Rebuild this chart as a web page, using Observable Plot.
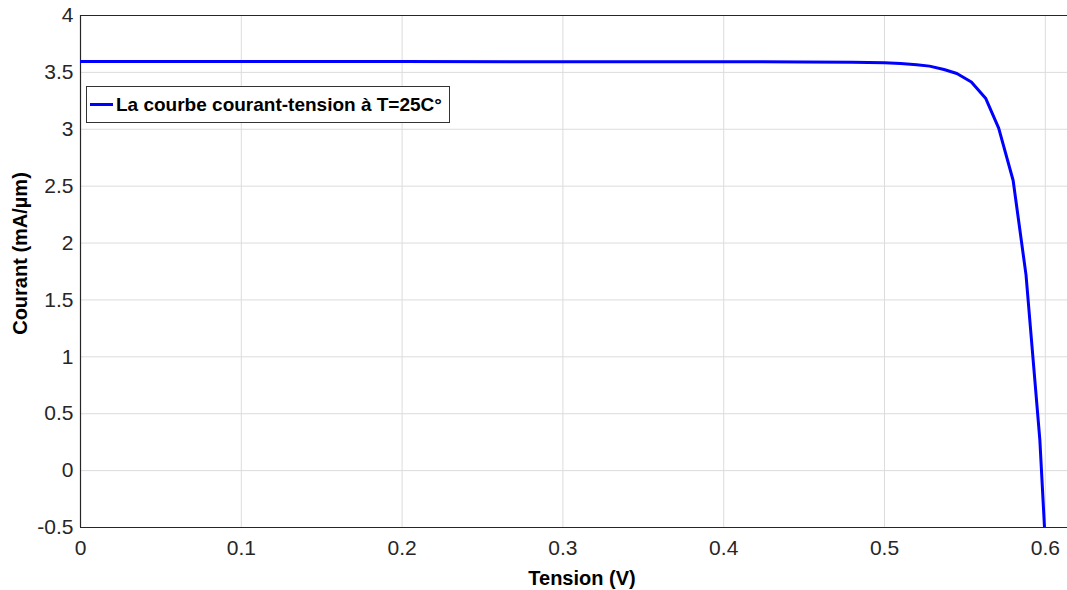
<!DOCTYPE html>
<html>
<head>
<meta charset="utf-8">
<script src="https://cdn.jsdelivr.net/npm/d3@7"></script>
<script src="https://cdn.jsdelivr.net/npm/@observablehq/plot@0.6"></script>
<style>
  html, body { margin: 0; padding: 0; background: #fff; }
  #wrap { position: relative; width: 1067px; height: 590px; font-family: "Liberation Sans", Arial, sans-serif; }
  #legend { position: absolute; left: 86px; top: 86px; width: 364px; height: 37px; border: 1px solid #333; background: #fff; box-sizing: border-box; display: flex; align-items: center; }
  #legend .sw { width: 23px; height: 3px; background: #0000ff; margin-left: 3px; margin-right: 3px; }
  #legend .tx { font-weight: bold; font-size: 19px; color: #000; white-space: nowrap; }
  g[aria-label="x-axis tick label"], g[aria-label="y-axis tick label"] { font-size: 21px; }
</style>
</head>
<body>
<div id="wrap"></div>
<script>
const tension = [0, 0.1, 0.2, 0.3, 0.4, 0.45, 0.48, 0.5, 0.51, 0.52, 0.528, 0.537, 0.545, 0.554, 0.563, 0.571, 0.580, 0.588, 0.5966, 0.5995];
const courant = [3.595, 3.595, 3.595, 3.594, 3.593, 3.592, 3.59, 3.585, 3.578, 3.568, 3.555, 3.525, 3.49, 3.415, 3.27, 3.01, 2.55, 1.72, 0.27, -0.5];
const xTicks = [0, 0.1, 0.2, 0.3, 0.4, 0.5, 0.6];
const yTicks = [-0.5, 0, 0.5, 1, 1.5, 2, 2.5, 3, 3.5, 4];
const legendLabel = "La courbe courant-tension à T=25C°";
const xLabel = "Tension (V)";
const yLabel = "Courant (mA/µm)";

const data = tension.map((v, i) => ({v, i: courant[i]}));

const chart = Plot.plot({
  width: 1067,
  height: 590,
  marginLeft: 80,
  marginRight: 0,
  marginTop: 15,
  marginBottom: 63,
  style: {fontFamily: "'Liberation Sans', Arial, sans-serif", fontSize: "21px", color: "#262626", background: "#fff"},
  x: {domain: [0, 0.6138]},
  y: {domain: [-0.5, 4]},
  marks: [
    Plot.gridX(xTicks, {stroke: "#dcdcdc", strokeOpacity: 1, strokeWidth: 1}),
    Plot.gridY(yTicks, {stroke: "#dcdcdc", strokeOpacity: 1, strokeWidth: 1}),
    Plot.axisX(xTicks, {tickSize: 0, tickPadding: 13, tickFormat: d => d === 0 ? "0" : d3.format(".1f")(d), fontSize: 21, fill: "#262626", label: null}),
    Plot.axisY(yTicks, {tickSize: 0, tickPadding: 7, tickFormat: d => String(d), fontSize: 21, fill: "#262626", label: null}),
    Plot.ruleY([-0.5], {stroke: "#262626", strokeWidth: 1.2}),
    Plot.ruleY([4], {stroke: "#262626", strokeWidth: 1.2}),
    Plot.ruleX([0], {stroke: "#262626", strokeWidth: 1.2}),
    Plot.line(data, {x: "v", y: "i", stroke: "#0000ff", strokeWidth: 3, clip: true}),
    Plot.text([xLabel], {frameAnchor: "bottom", dy: 51, dx: 8, text: d => d, fontWeight: "bold", fontSize: 20, fill: "#000", textAnchor: "middle", lineAnchor: "middle"}),
    Plot.text([yLabel], {frameAnchor: "left", dx: -60, dy: -18, rotate: -90, text: d => d, fontWeight: "bold", fontSize: 20, fill: "#000", textAnchor: "middle", lineAnchor: "middle"})
  ]
});

const wrap = document.getElementById("wrap");
wrap.appendChild(chart);
const leg = document.createElement("div");
leg.id = "legend";
leg.innerHTML = `<div class="sw"></div><div class="tx"></div>`;
leg.querySelector(".tx").textContent = legendLabel;
wrap.appendChild(leg);
</script>
</body>
</html>
